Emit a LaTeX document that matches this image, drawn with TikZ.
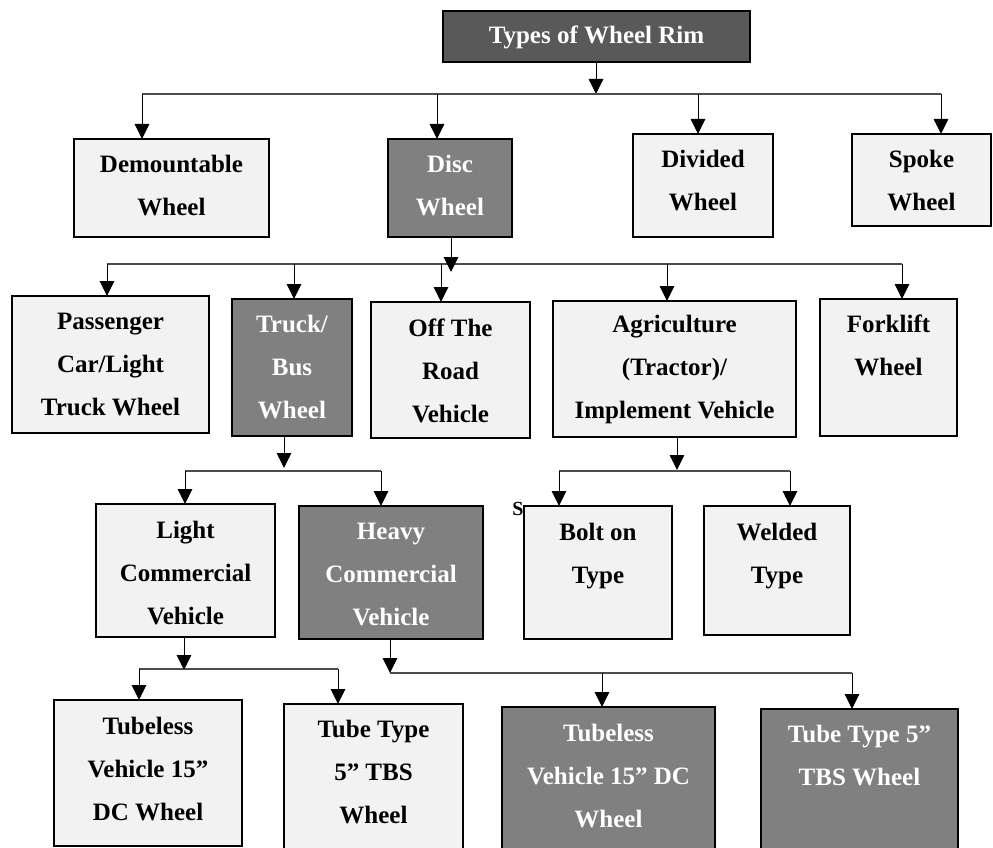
\documentclass[tikz,border=0pt]{standalone}
\usepackage{fontspec}
\setmainfont{Liberation Serif}
\usetikzlibrary{arrows.meta}
\definecolor{lightfill}{HTML}{F2F2F2}
\definecolor{darkfill}{HTML}{808080}
\definecolor{titlefill}{HTML}{595959}
\tikzset{
  boxbase/.style={draw=black, line width=2.2pt, inner sep=0pt, outer sep=0pt},
  lightbox/.style={boxbase, fill=lightfill},
  darkbox/.style={boxbase, fill=darkfill},
  titlebox/.style={boxbase, fill=titlefill},
  txtbase/.style={font=\fontsize{25}{43}\selectfont\bfseries, align=center, inner sep=0pt, outer sep=0pt},
  lightboxtxt/.style={txtbase, text=black},
  darkboxtxt/.style={txtbase, text=white},
  titleboxtxt/.style={txtbase, text=white},
  arr/.style={draw=black, line width=1pt, -{Triangle[width=14.5pt,length=15pt]}},
  hline/.style={draw=black!70, line width=1.3pt},
}
% name, style, x1, y1, x2, y2, baseline of last line, text
\newcommand\wbox[8]{%
  \pgfmathsetmacro\bw{#5-#3}%
  \pgfmathsetmacro\bh{#6-#4}%
  \pgfmathsetmacro\cx{(#3+#5)/2}%
  \node[#2, minimum width=\bw pt, minimum height=\bh pt, anchor=north west] (#1) at (#3,#4) {};
  \node[#2txt, anchor=base] (#1t) at (\cx,#7) {#8};
}
\begin{document}
\begin{tikzpicture}[x=1pt,y=-1pt]
\useasboundingbox (0,0) rectangle (993,848);
% boxes
\wbox{title}{titlebox}{443}{11}{750}{62}{44}{Types of Wheel Rim}
\wbox{dem}{lightbox}{74}{139}{269}{237}{215}{Demountable\\Wheel}
\wbox{disc}{darkbox}{388}{139}{512}{237}{215}{Disc\\Wheel}
\wbox{div}{lightbox}{633}{134}{773}{237}{210}{Divided\\Wheel}
\wbox{spoke}{lightbox}{852}{134}{991}{226}{210}{Spoke\\Wheel}
\wbox{pass}{lightbox}{12}{296}{209}{433}{415}{Passenger\\Car/Light\\Truck Wheel}
\wbox{truck}{darkbox}{232}{299}{352}{436}{418}{Truck/\\Bus\\Wheel}
\wbox{off}{lightbox}{371}{302}{530}{438}{422}{Off The\\Road\\Vehicle}
\wbox{agri}{lightbox}{553}{301}{796}{437}{418}{Agriculture\\(Tractor)/\\Implement Vehicle}
\wbox{fork}{lightbox}{820}{299}{957}{436}{375}{Forklift\\Wheel}
\wbox{light}{lightbox}{96}{504}{275}{637}{624}{Light\\Commercial\\Vehicle}
\wbox{heavy}{darkbox}{299}{506}{483}{639}{625}{Heavy\\Commercial\\Vehicle}
\wbox{bolt}{lightbox}{524}{506}{672}{639}{583}{Bolt on\\Type}
\wbox{weld}{lightbox}{704}{506}{850}{635}{583}{Welded\\Type}
\wbox{tl}{lightbox}{54}{700}{242}{846}{820}{Tubeless\\Vehicle 15”\\DC Wheel}
\wbox{tt}{lightbox}{284}{704}{463}{870}{823}{Tube Type\\5” TBS\\Wheel}
\wbox{dtl}{darkbox}{502}{707}{715}{870}{827}{Tubeless\\Vehicle 15” DC\\Wheel}
\wbox{dtt}{darkbox}{761}{709}{958}{870}{785}{Tube Type 5”\\TBS Wheel}
\node[font=\fontsize{20}{22}\selectfont\bfseries, anchor=base, inner sep=0pt] (s) at (518,515) {S};
% level 1
\coordinate (j0) at (596,94);
\coordinate (l1a) at (142,94);
\coordinate (l1b) at (437,94);
\coordinate (l1c) at (698,94);
\coordinate (l1d) at (941,94);
\draw[arr] (title.south -| j0) -- (j0);
\draw[hline] (l1a) -- (l1d);
\draw[arr] (l1a) -- (l1a |- dem.north);
\draw[arr] (l1b) -- (l1b |- disc.north);
\draw[arr] (l1c) -- (l1c |- div.north);
\draw[arr] (l1d) -- (l1d |- spoke.north);
% level 2
\coordinate (d1) at (451,272);
\coordinate (l2a) at (107,264);
\coordinate (l2b) at (294,264);
\coordinate (l2c) at (441,264);
\coordinate (l2d) at (667,264);
\coordinate (l2e) at (902,264);
\draw[hline] (l2a) -- (l2e);
\draw[arr] (d1 |- disc.south) -- (d1);
\draw[arr] (l2a) -- (l2a |- pass.north);
\draw[arr] (l2b) -- (l2b |- truck.north);
\draw[arr] (l2c) -- (l2c |- off.north);
\draw[arr] (l2d) -- (l2d |- agri.north);
\draw[arr] (l2e) -- (l2e |- fork.north);
% level 3 truck
\coordinate (t1) at (284,468);
\coordinate (l3a) at (185,471);
\coordinate (l3b) at (381,471);
\draw[hline] (l3a) -- (l3b);
\draw[arr] (t1 |- truck.south) -- (t1);
\draw[arr] (l3a) -- (l3a |- light.north);
\draw[arr] (l3b) -- (l3b |- heavy.north);
% level 3 agri
\coordinate (a1) at (677,470);
\coordinate (l3c) at (559,471);
\coordinate (l3d) at (790,471);
\draw[hline] (l3c) -- (l3d);
\draw[arr] (a1 |- agri.south) -- (a1);
\draw[arr] (l3c) -- (l3c |- bolt.north);
\draw[arr] (l3d) -- (l3d |- weld.north);
% level 4 light
\coordinate (lc1) at (184,670);
\coordinate (l4a) at (139,669);
\coordinate (l4b) at (338,669);
\draw[hline] (l4a) -- (l4b);
\draw[arr] (lc1 |- light.south) -- (lc1);
\draw[arr] (l4a) -- (l4a |- tl.north);
\draw[arr] (l4b) -- (l4b |- tt.north);
% level 4 heavy
\coordinate (h1) at (390,673);
\coordinate (l4c) at (602,673);
\coordinate (l4d) at (852,673);
\draw[hline] (h1) -- (l4d);
\draw[arr] (h1 |- heavy.south) -- (h1);
\draw[arr] (l4c) -- (l4c |- dtl.north);
\draw[arr] (l4d) -- (l4d |- dtt.north);
\end{tikzpicture}
\end{document}
